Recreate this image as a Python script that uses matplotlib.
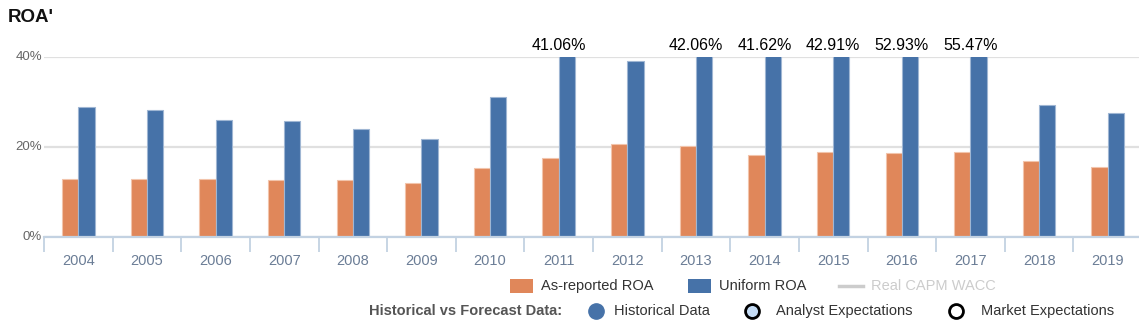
import numpy as np
import matplotlib
matplotlib.use("Agg")
import matplotlib.pyplot as plt
from matplotlib.lines import Line2D
from matplotlib.patches import Rectangle

plt.rcParams['font.family'] = ['Liberation Sans', 'DejaVu Sans']

years = ['2004', '2005', '2006', '2007', '2008', '2009', '2010', '2011',
         '2012', '2013', '2014', '2015', '2016', '2017', '2018', '2019']
as_reported = [13.0, 13.0, 13.0, 12.7, 12.7, 12.0, 15.3, 17.6,
               20.6, 20.2, 18.3, 19.0, 18.6, 19.0, 17.0, 15.6]
uniform = [28.9, 28.3, 26.0, 25.8, 24.0, 21.8, 31.1, 41.06,
           39.2, 42.06, 41.62, 42.91, 52.93, 55.47, 29.3, 27.6]
ymax = 40

orange = '#e0875a'
blue = '#4672a8'
axis_col = '#c3d2e2'

W, H = 1139, 326
fig = plt.figure(figsize=(W / 100, H / 100), dpi=100)
ax = fig.add_axes([44 / W, 89 / H, 1098 / W, 180 / H])

x = np.arange(len(years))
bw = 0.237
ax.bar(x - bw / 2, as_reported, bw, color=orange, edgecolor='#f2c4ab', linewidth=0.8, zorder=3)
ax.bar(x + bw / 2, uniform, bw, color=blue, edgecolor='#9fb6d3', linewidth=0.8, zorder=3)

# labels for values cut off at the top
for i, v in enumerate(uniform):
    if v > ymax:
        ax.annotate(f'{v:.2f}%', xy=(i, ymax), xytext=(0, 8.6), textcoords='offset points',
                    ha='center', va='center', fontsize=11.5, color='#000000', annotation_clip=False)

ax.set_xlim(-0.5, len(years) - 0.5)
ax.set_ylim(0, ymax)
ax.set_yticks([0, 20, 40])
ax.set_yticklabels(['0%', '20%', '40%'])
ax.yaxis.grid(True, color='#e0e0e0', linewidth=1.6, zorder=0)
ax.set_axisbelow(True)

ax.set_xticks(x)
ax.set_xticklabels(years)
ax.set_xticks(np.arange(-0.5, len(years)), minor=True)
ax.tick_params(axis='x', which='major', length=0, pad=12, labelsize=10.5, labelcolor='#6b7d96')
ax.tick_params(axis='x', which='minor', length=11, width=1.3, color=axis_col, direction='out')
ax.tick_params(axis='y', length=0, pad=1.5, labelsize=9.5, labelcolor='#666666')
for lab in ax.get_yticklabels():
    lab.set_verticalalignment('center')

for s in ['top', 'right', 'left']:
    ax.spines[s].set_visible(False)
ax.spines['bottom'].set_color(axis_col)
ax.spines['bottom'].set_linewidth(1.6)
ax.spines['bottom'].set_zorder(4)

fig.text(8 / W, 1 - 17 / H, "ROA'", fontsize=13.5, fontweight='bold', color='#111111',
         va='center', ha='left')

# legend row 1
def fx(px):
    return px / W

def fy(py):
    return 1 - py / H

y1 = 286
fig.patches.append(Rectangle((fx(510), fy(y1 + 7)), 23 / W, 14 / H, transform=fig.transFigure,
                             facecolor=orange, edgecolor='none'))
fig.text(fx(541), fy(y1), 'As-reported ROA', fontsize=10.5, color='#333333', va='center')
fig.patches.append(Rectangle((fx(688), fy(y1 + 7)), 23 / W, 14 / H, transform=fig.transFigure,
                             facecolor=blue, edgecolor='none'))
fig.text(fx(719), fy(y1), 'Uniform ROA', fontsize=10.5, color='#333333', va='center')
fig.lines.append(Line2D([fx(839), fx(863)], [fy(y1), fy(y1)], transform=fig.transFigure,
                        color='#cccccc', linewidth=2.5))
fig.text(fx(871), fy(y1), 'Real CAPM WACC', fontsize=10.5, color='#cccccc', va='center')

# legend row 2
y2 = 311
fig.text(fx(369), fy(y2), 'Historical vs Forecast Data:', fontsize=10.5, fontweight='bold',
         color='#555555', va='center')
fig.lines.append(Line2D([fx(596)], [fy(y2)], transform=fig.transFigure, marker='o', markersize=11,
                        markerfacecolor=blue, markeredgecolor=blue, linestyle='none'))
fig.text(fx(614), fy(y2), 'Historical Data', fontsize=10.5, color='#333333', va='center')
fig.lines.append(Line2D([fx(752)], [fy(y2)], transform=fig.transFigure, marker='o', markersize=10,
                        markerfacecolor='#c5dcf5', markeredgecolor='#000000', markeredgewidth=2,
                        linestyle='none'))
fig.text(fx(776), fy(y2), 'Analyst Expectations', fontsize=10.5, color='#333333', va='center')
fig.lines.append(Line2D([fx(956)], [fy(y2)], transform=fig.transFigure, marker='o', markersize=10,
                        markerfacecolor='#ffffff', markeredgecolor='#000000', markeredgewidth=2,
                        linestyle='none'))
fig.text(fx(981), fy(y2), 'Market Expectations', fontsize=10.5, color='#333333', va='center')

fig.savefig('out.png', dpi=100)
